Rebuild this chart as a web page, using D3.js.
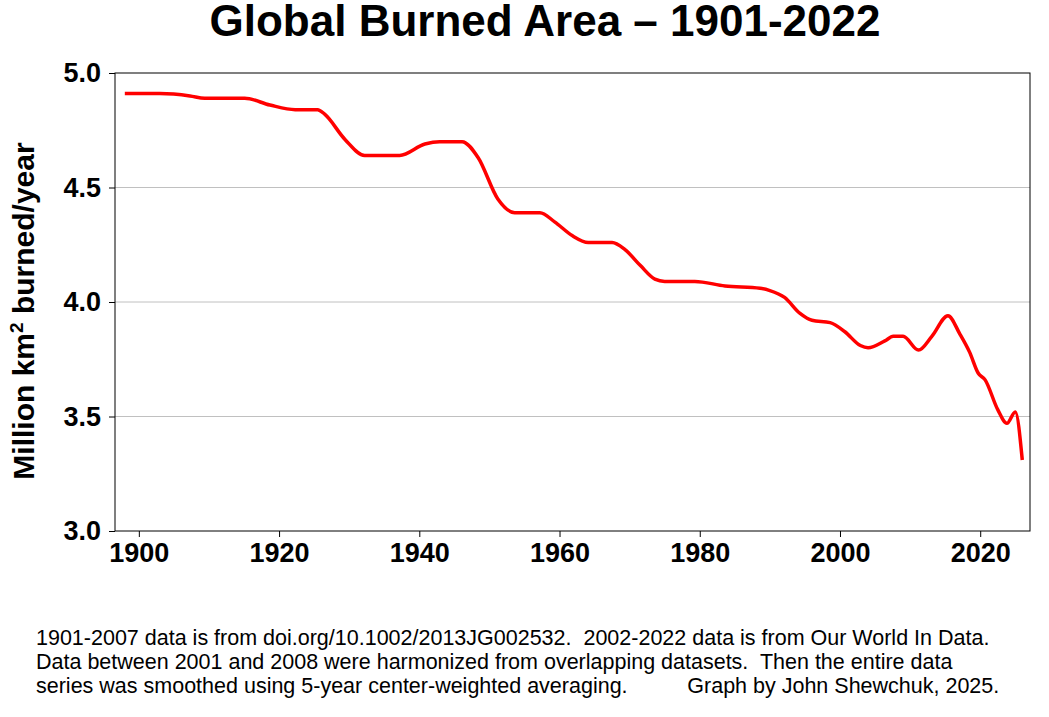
<!DOCTYPE html>
<html><head><meta charset="utf-8">
<script src="https://cdn.jsdelivr.net/npm/d3@7"></script>
<style>body{margin:0;background:#fff}text{font-family:Arial,"Liberation Sans",sans-serif}</style>
</head><body><svg id="c" width="1049" height="717"></svg>
<script>
// smoothed series
var years = [1898.0,1903.0,1907.3,1909.4,1915.1,1918.7,1922.3,1925.5,1926.5,1929.4,1932.2,1937.2,1940.8,1942.9,1946.1,1948.4,1951.2,1953.6,1957.2,1959.3,1961.8,1964.1,1967.5,1969.3,1971.5,1973.6,1975.0,1979.3,1983.6,1988.6,1990.0,1992.1,1994.3,1996.0,1998.6,2000.7,2002.9,2004.0,2006.4,2007.6,2009.0,2011.2,2013.1,2015.4,2017.1,2018.5,2019.7,2020.7,2022.5,2023.8,2025.0,2026.0];
var area = [4.91,4.91,4.90,4.89,4.89,4.86,4.84,4.84,4.82,4.71,4.64,4.64,4.69,4.70,4.70,4.63,4.45,4.39,4.39,4.35,4.29,4.26,4.26,4.23,4.16,4.10,4.09,4.09,4.07,4.06,4.05,4.02,3.95,3.92,3.91,3.87,3.81,3.80,3.83,3.85,3.85,3.79,3.85,3.94,3.86,3.78,3.69,3.66,3.53,3.47,3.52,3.31];
var xTicks = [1900,1920,1940,1960,1980,2000,2020];
var yTicks = [3.0,3.5,4.0,4.5,5.0];
var footer = ["1901-2007 data is from doi.org/10.1002/2013JG002532.  2002-2022 data is from Our World In Data.",
  "Data between 2001 and 2008 were harmonized from overlapping datasets.  Then the entire data",
  "series was smoothed using 5-year center-weighted averaging.          Graph by John Shewchuk, 2025."];

var svg = d3.select("#c");
var L = 115, R = 1030, T = 73, B = 531;
var x = d3.scaleLinear().domain([1896.6, 2027.1]).range([L, R]);
var y = d3.scaleLinear().domain([3, 5]).range([B, T]);

svg.append("text").attr("x", 545).attr("y", 36).attr("text-anchor", "middle")
  .attr("font-size", 44).attr("font-weight", "bold").text("Global Burned Area \u2013 1901-2022");

// gridlines
svg.selectAll(".g").data([3.5, 4.0, 4.5]).enter().append("line")
  .attr("x1", L).attr("x2", R).attr("y1", d => y(d)).attr("y2", d => y(d))
  .attr("stroke", "#c0c0c0").attr("stroke-width", 1);

svg.append("g").attr("transform", `translate(0,${B})`)
  .call(d3.axisBottom(x).tickValues(xTicks).tickFormat(d3.format("d")).tickSize(6).tickPadding(6))
  .call(g => g.select(".domain").remove())
  .selectAll("text").attr("font-size", 27).attr("font-weight", "bold").attr("fill", "#000");
svg.append("g").attr("transform", `translate(${L},0)`)
  .call(d3.axisLeft(y).tickValues(yTicks).tickFormat(d3.format(".1f")).tickSize(6).tickPadding(8))
  .call(g => g.select(".domain").remove())
  .selectAll("text").attr("font-size", 27).attr("font-weight", "bold").attr("fill", "#000");

svg.append("rect").attr("x", L).attr("y", T).attr("width", R - L).attr("height", B - T)
  .attr("fill", "none").attr("stroke", "#000").attr("stroke-width", 1);

var line = d3.line().x((d, i) => x(years[i])).y(d => y(d)).curve(d3.curveMonotoneX);
svg.append("path").attr("d", line(area)).attr("fill", "none")
  .attr("stroke", "#f00").attr("stroke-width", 3.5);

var yl = svg.append("text").attr("transform", "translate(34,311) rotate(-90)")
  .attr("text-anchor", "middle").attr("font-size", 30).attr("font-weight", "bold");
yl.append("tspan").text("Million km");
yl.append("tspan").attr("font-size", 19).attr("dy", -11).text("2");
yl.append("tspan").attr("dy", 11).text(" burned/year");

svg.selectAll(".f").data(footer).enter().append("text")
  .attr("x", 36).attr("y", (d, i) => 645 + i * 24).attr("font-size", 21.5)
  .attr("xml:space", "preserve").style("white-space", "pre").text(d => d);
</script></body></html>
